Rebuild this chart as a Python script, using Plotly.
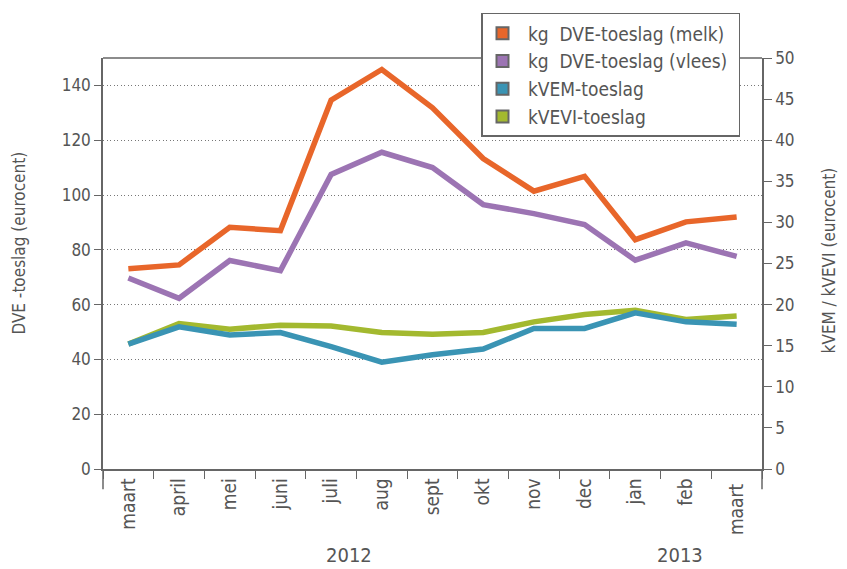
import plotly.graph_objects as go

months = ["maart", "april", "mei", "juni", "juli", "aug", "sept", "okt", "nov", "dec", "jan", "feb", "maart "]
dve_melk = [73.1, 74.5, 88.2, 87.0, 134.6, 145.8, 131.8, 113.3, 101.4, 106.8, 83.7, 90.2, 92.0]
dve_vlees = [69.7, 62.3, 76.1, 72.4, 107.5, 115.6, 110.0, 96.5, 93.2, 89.2, 76.2, 82.5, 77.6]
kvem = [15.2, 17.3, 16.3, 16.6, 14.9, 13.0, 13.9, 14.6, 17.1, 17.1, 19.0, 17.9, 17.6]
kvevi = [15.2, 17.7, 17.0, 17.5, 17.4, 16.6, 16.4, 16.6, 17.9, 18.8, 19.3, 18.2, 18.6]
years = ["2012", "2013"]
left_ticks = [0, 20, 40, 60, 80, 100, 120, 140]
right_ticks = [0, 5, 10, 15, 20, 25, 30, 35, 40, 45, 50]

names = ["\u00a0kg\u00a0\u00a0DVE-toeslag (melk)", "\u00a0kg\u00a0\u00a0DVE-toeslag (vlees)\u00a0",
         "\u00a0kVEM-toeslag", "\u00a0kVEVI-toeslag"]
colors = ["#E8662A", "#9C74B3", "#3A94B4", "#A3B92F"]

FONT = "DejaVu Sans Condensed, Liberation Sans Narrow, Roboto, sans-serif"
GRAY = "#666666"
TXT = "#555555"

fig = go.Figure()
fig.add_trace(go.Scatter(x=months, y=kvevi, yaxis="y2", mode="lines",
                         line=dict(color=colors[3], width=5.5), showlegend=False))
fig.add_trace(go.Scatter(x=months, y=kvem, yaxis="y2", mode="lines",
                         line=dict(color=colors[2], width=5.5), showlegend=False))
fig.add_trace(go.Scatter(x=months, y=dve_vlees, mode="lines",
                         line=dict(color=colors[1], width=5.5), showlegend=False))
fig.add_trace(go.Scatter(x=months, y=dve_melk, mode="lines",
                         line=dict(color=colors[0], width=5.5), showlegend=False))
for n, c in zip(names, colors):
    fig.add_trace(go.Scatter(x=[None], y=[None], mode="markers", name=n,
                             marker=dict(symbol="square", size=15, color=c,
                                         line=dict(color=GRAY, width=1))))

# page body has an 8px margin; the figure starts at (8, 8)
fig.update_layout(
    width=831, height=561,
    margin=dict(l=95, r=77, t=50, b=100, autoexpand=False),
    paper_bgcolor="white", plot_bgcolor="white",
    font=dict(family=FONT, size=17, color=TXT),
    xaxis=dict(type="category", tickangle=-90, ticks="outside", ticklen=8,
               tickcolor=GRAY, tickson="boundaries", showline=True,
               linecolor=GRAY, linewidth=1.5, showgrid=False, automargin=False,
               tickfont=dict(size=19, color=TXT), range=[-0.5, 12.5]),
    yaxis=dict(range=[0, 150], tickvals=left_ticks, ticks="outside", ticklen=7,
               tickcolor=GRAY, showline=True, linecolor=GRAY, linewidth=1.5,
               showgrid=True, gridcolor="#777777", griddash="1px,2.5px", gridwidth=1,
               zeroline=False, automargin=False, tickfont=dict(size=17, color=TXT)),
    yaxis2=dict(range=[0, 50], tickvals=right_ticks, overlaying="y", side="right",
                ticks="outside", ticklen=8, tickcolor=GRAY, showline=True,
                linecolor=GRAY, linewidth=1.5, showgrid=False, zeroline=False,
                automargin=False, tickfont=dict(size=17, color=TXT)),
    legend=dict(x=0.5736, y=1.1095, xanchor="left", yanchor="top",
                bgcolor="white", bordercolor=GRAY, borderwidth=1.5,
                font=dict(size=19, color=TXT), tracegroupgap=0,
                itemsizing="constant"),
)

fig.add_shape(type="line", xref="paper", yref="paper", x0=0, x1=1, y0=1, y1=1,
              line=dict(color=GRAY, width=1.5))
for xp in (0, 1):
    fig.add_shape(type="line", xref="paper", yref="paper", x0=xp, x1=xp, y0=0, y1=-0.049,
                  line=dict(color=GRAY, width=1.5))

fig.add_annotation(text="DVE -toeslag (eurocent)", xref="paper", yref="paper",
                   x=-0.128, y=0.55, xanchor="center", yanchor="middle",
                   textangle=-90, showarrow=False, font=dict(size=17, color=TXT))
fig.add_annotation(text="kVEM / kVEVI (eurocent)", xref="paper", yref="paper",
                   x=1.102, y=0.508, xanchor="center", yanchor="middle",
                   textangle=-90, showarrow=False, font=dict(size=17, color=TXT))

for yr, xp in zip(years, (0.373, 0.876)):
    fig.add_annotation(text=yr, xref="paper", yref="paper", x=xp, y=-0.21,
                       xanchor="center", yanchor="middle",
                       showarrow=False, font=dict(size=20, color=TXT))

fig.write_html("out.html")
